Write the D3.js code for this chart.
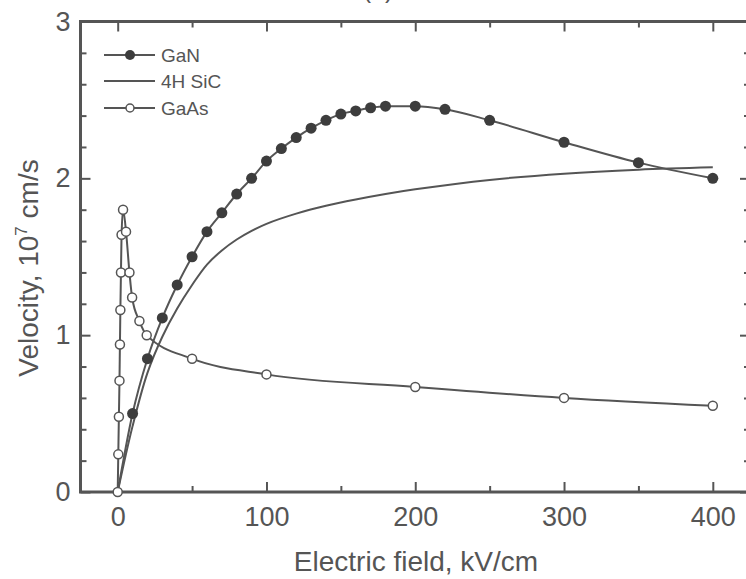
<!DOCTYPE html>
<html>
<head>
<meta charset="utf-8">
<script src="https://cdn.jsdelivr.net/npm/d3@7"></script>
<style>
  body { margin: 0; background: #fff; }
  text { font-family: "Liberation Sans", Arial, sans-serif; fill: #555; }
</style>
</head>
<body>
<div id="chart"></div>
<script>
// velocity (10^7 cm/s) vs electric field (kV/cm)
var ganField = [0, 10, 20, 30, 40, 50, 60, 70, 80, 90, 100, 110, 120, 130, 140, 150, 160, 170, 180, 200, 220, 250, 300, 350, 400];
var ganVelocity = [0, 0.50, 0.85, 1.11, 1.32, 1.50, 1.66, 1.78, 1.90, 2.00, 2.11, 2.19, 2.26, 2.32, 2.37, 2.41, 2.43, 2.45, 2.46, 2.46, 2.44, 2.37, 2.23, 2.10, 2.00];

var sicField = [0, 10, 20, 30, 40, 50, 60, 70, 80, 90, 100, 120, 140, 160, 180, 200, 250, 300, 350, 400];
var sicVelocity = [0, 0.42, 0.76, 0.99, 1.17, 1.32, 1.45, 1.54, 1.61, 1.665, 1.71, 1.775, 1.825, 1.865, 1.90, 1.93, 1.99, 2.03, 2.055, 2.07];

var gaasField = [0, 0.4, 0.8, 1.2, 1.5, 1.8, 2.2, 2.6, 3.6, 5.6, 7.9, 9.7, 14.6, 19.5, 50, 100, 200, 300, 400];
var gaasVelocity = [0, 0.24, 0.48, 0.71, 0.94, 1.16, 1.40, 1.64, 1.80, 1.66, 1.40, 1.24, 1.09, 1.00, 0.85, 0.75, 0.67, 0.60, 0.55];

var xMajor = [0, 100, 200, 300, 400];
var xMinor = [50, 150, 250, 350];
var yMajor = [0, 1, 2, 3];
var yMinor = [0.2, 0.4, 0.6, 0.8, 1.2, 1.4, 1.6, 1.8, 2.2, 2.4, 2.6, 2.8];

var svgWidth = 746;
var svgHeight = 579;
var ink = "#555";

var svg = d3.select("#chart")
  .append("svg")
  .attr("width", svgWidth)
  .attr("height", svgHeight);

var x = d3.scaleLinear().domain([-25, 425]).range([80.5, 750]);
var y = d3.scaleLinear().domain([0, 3]).range([492, 21.5]);

function zip(xs, ys) {
  return xs.map((d, i) => ({ e: d, v: ys[i] }));
}
var ganData = zip(ganField, ganVelocity);
var sicData = zip(sicField, sicVelocity);
var gaasData = zip(gaasField, gaasVelocity);

// ticks, all pointing inwards
function addAxis(axis, transform, values, size, padding) {
  var g = svg.append("g")
    .attr("transform", transform)
    .call(axis.tickValues(values).tickSize(-size).tickPadding(padding || 0)
      .tickFormat(padding ? d3.format("d") : ""));
  g.select(".domain").remove();
  g.selectAll("line").attr("stroke", ink).attr("stroke-width", 2);
  g.selectAll("text").attr("font-size", 27).attr("fill", ink);
  return g;
}

addAxis(d3.axisBottom(x), `translate(0, ${y(0)})`, xMajor, 10, 15);
addAxis(d3.axisBottom(x), `translate(0, ${y(0)})`, xMinor, 6);
addAxis(d3.axisTop(x), `translate(0, ${y(3)})`, xMajor, 10);
addAxis(d3.axisTop(x), `translate(0, ${y(3)})`, xMinor, 6);
addAxis(d3.axisLeft(y), `translate(${x(-25)}, 0)`, yMajor, 10, 10);
addAxis(d3.axisLeft(y), `translate(${x(-25)}, 0)`, yMinor, 6);
addAxis(d3.axisRight(y), `translate(${x(425)}, 0)`, yMajor, 10);
addAxis(d3.axisRight(y), `translate(${x(425)}, 0)`, yMinor, 6);

// frame
svg.append("rect")
  .attr("x", x(-25))
  .attr("y", y(3))
  .attr("width", x(425) - x(-25))
  .attr("height", y(0) - y(3))
  .attr("fill", "none")
  .attr("stroke", ink)
  .attr("stroke-width", 3);

var line = d3.line()
  .x(d => x(d.e))
  .y(d => y(d.v))
  .curve(d3.curveMonotoneX);

var smoothLine = d3.line()
  .x(d => x(d.e))
  .y(d => y(d.v))
  .curve(d3.curveCatmullRom.alpha(0.5));

svg.append("path")
  .datum(sicData)
  .attr("d", smoothLine)
  .attr("fill", "none")
  .attr("stroke", ink)
  .attr("stroke-width", 2);

svg.append("path")
  .datum(ganData)
  .attr("d", line)
  .attr("fill", "none")
  .attr("stroke", ink)
  .attr("stroke-width", 2);

svg.append("g")
  .selectAll("circle")
  .data(ganData.slice(1))
  .enter()
  .append("circle")
  .attr("cx", d => x(d.e))
  .attr("cy", d => y(d.v))
  .attr("r", 5.5)
  .attr("fill", "#3d3d3d");

svg.append("path")
  .datum(gaasData)
  .attr("d", line)
  .attr("fill", "none")
  .attr("stroke", ink)
  .attr("stroke-width", 2);

svg.append("g")
  .selectAll("circle")
  .data(gaasData)
  .enter()
  .append("circle")
  .attr("cx", d => x(d.e))
  .attr("cy", d => y(d.v))
  .attr("r", 4.5)
  .attr("fill", "#fff")
  .attr("stroke", ink)
  .attr("stroke-width", 1.5);

// legend
var legendItems = [
  { name: "GaN", marker: "filled", y: 55 },
  { name: "4H SiC", marker: "none", y: 81 },
  { name: "GaAs", marker: "open", y: 108 }
];

var legend = svg.append("g");
legendItems.forEach(function(item) {
  legend.append("line")
    .attr("x1", 104).attr("x2", 155)
    .attr("y1", item.y).attr("y2", item.y)
    .attr("stroke", ink)
    .attr("stroke-width", 2);
  if (item.marker !== "none") {
    legend.append("circle")
      .attr("cx", 130)
      .attr("cy", item.y)
      .attr("r", item.marker === "filled" ? 5 : 4)
      .attr("fill", item.marker === "filled" ? "#3d3d3d" : "#fff")
      .attr("stroke", ink)
      .attr("stroke-width", item.marker === "filled" ? 0 : 1.5);
  }
  legend.append("text")
    .attr("x", 161)
    .attr("y", item.y)
    .attr("dy", "0.35em")
    .attr("font-size", 19)
    .text(item.name);
});

// axis titles
svg.append("text")
  .attr("x", 416)
  .attr("y", 571)
  .attr("text-anchor", "middle")
  .attr("font-size", 28)
  .text("Electric field, kV/cm");

var yTitle = svg.append("text")
  .attr("transform", "translate(38, 268) rotate(-90)")
  .attr("text-anchor", "middle")
  .attr("font-size", 28);
yTitle.append("tspan").text("Velocity, 10");
yTitle.append("tspan").attr("font-size", 17).attr("dy", -11).text("7");
yTitle.append("tspan").attr("dy", 11).text(" cm/s");

// panel tag, cut off at the top edge as in the source
svg.append("text")
  .attr("x", 378)
  .attr("y", -2)
  .attr("text-anchor", "middle")
  .attr("font-size", 25)
  .text("(a)");
</script>
</body>
</html>
